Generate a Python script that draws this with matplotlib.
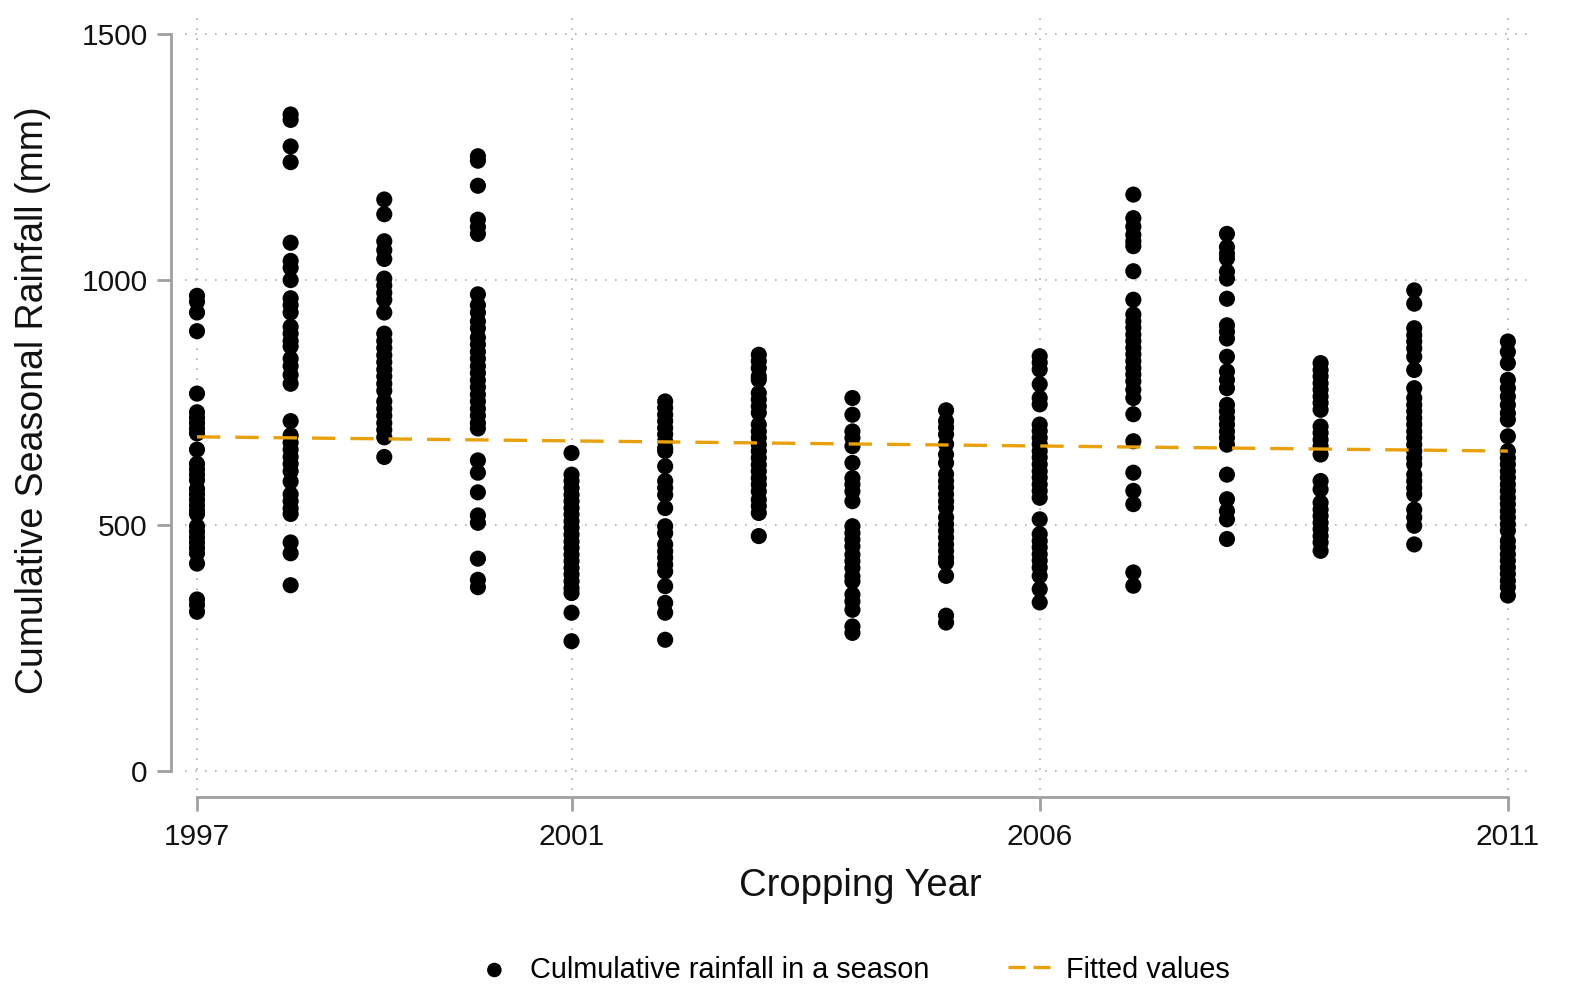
import numpy as np
import matplotlib
matplotlib.use('Agg')
import matplotlib.pyplot as plt
from matplotlib.lines import Line2D

plt.rcParams['font.family'] = ['Liberation Sans', 'DejaVu Sans']

'Data (seasonal rainfall, mm) read off the picture'
r1997 = [967, 955, 933, 895, 768, 730, 719, 708, 697, 687, 654, 625, 614, 603, 592, 574,
         563, 552, 541, 530, 523, 498, 487, 476, 465, 454, 443, 422, 349, 338, 324]
r1998 = [1336, 1325, 1271, 1239, 1075, 1038, 1024, 999, 962, 948, 933, 904, 890, 875, 864,
         839, 824, 806, 788, 712, 683, 668, 654, 639, 625, 610, 589, 563, 549, 534, 523,
         465, 443, 378]
r1999 = [1163, 1133, 1078, 1060, 1042, 1002, 988, 973, 959, 933, 890, 875, 861, 846, 832,
         817, 803, 788, 774, 752, 737, 723, 708, 694, 679, 639]
r2000 = [1251, 1242, 1191, 1122, 1107, 1093, 970, 948, 933, 915, 901, 882, 868, 853, 839,
         824, 810, 795, 781, 766, 752, 737, 723, 708, 697, 632, 607, 567, 520, 505, 432,
         389, 374]
r2001 = [647, 603, 590, 576, 562, 549, 535, 522, 508, 495, 481, 467, 454, 440, 427, 413,
         400, 386, 372, 362, 322, 264]
r2002 = [752, 739, 725, 712, 698, 685, 671, 657, 651, 620, 590, 576, 562, 535, 498, 484,
         461, 447, 434, 420, 406, 376, 342, 322, 267]
r2003 = [847, 834, 820, 803, 796, 769, 756, 742, 729, 705, 691, 678, 664, 651, 637, 623,
         610, 596, 583, 569, 552, 539, 525, 478]
r2004 = [759, 725, 691, 678, 661, 627, 596, 583, 569, 549, 498, 484, 471, 457, 440, 427,
         413, 396, 386, 359, 345, 328, 294, 281]
r2005 = [734, 712, 699, 685, 665, 644, 627, 604, 590, 577, 563, 549, 536, 516, 502, 489,
         475, 461, 448, 434, 424, 397, 316, 302]
r2006 = [844, 831, 817, 787, 759, 746, 705, 692, 678, 665, 651, 638, 624, 610, 597, 583,
         570, 556, 512, 482, 468, 455, 441, 428, 414, 397, 370, 343]
r2007 = [1173, 1125, 1108, 1091, 1078, 1068, 1017, 959, 929, 915, 902, 888, 875, 861, 848,
         834, 820, 807, 793, 776, 759, 726, 671, 607, 570, 543, 404, 377]
r2008 = [1093, 1066, 1053, 1043, 1016, 1002, 961, 907, 894, 880, 843, 813, 796, 779, 745,
         732, 718, 705, 691, 678, 664, 603, 553, 529, 512, 472]
r2009 = [830, 816, 803, 789, 776, 762, 749, 735, 701, 688, 674, 661, 644, 590, 573, 546,
         532, 519, 505, 492, 478, 465, 448]
r2010 = [978, 951, 901, 887, 874, 860, 843, 816, 779, 759, 745, 732, 718, 705, 691, 678,
         664, 651, 637, 624, 603, 590, 576, 563, 532, 516, 499, 461]
r2011 = [874, 853, 830, 796, 779, 762, 745, 728, 715, 681, 651, 637, 624, 610, 597, 583,
         570, 556, 543, 529, 516, 502, 489, 468, 455, 441, 428, 414, 401, 387, 374, 357]

years = [1997, 1998, 1999, 2000, 2001, 2002, 2003, 2004, 2005, 2006, 2007, 2008, 2009, 2010, 2011]
rain = [r1997, r1998, r1999, r2000, r2001, r2002, r2003, r2004, r2005, r2006, r2007, r2008,
        r2009, r2010, r2011]

fit_years = [1997, 2011]
fit_vals = [680, 651]      # fitted line end points

xticks = [1997, 2001, 2006, 2011]
yticks = [0, 500, 1000, 1500]

# long form for scatter
xs = np.concatenate([[y] * len(r) for y, r in zip(years, rain)])
ys = np.concatenate(rain)

fit_color = '#E8A00C'

# ==================================================================
'Graph'
fig = plt.figure(figsize=(15.76, 9.84), dpi=100)
ax = fig.add_axes([0.1174, 0.1972, 0.8566, 0.7927])

sc = ax.scatter(xs, ys, s=135, color='black', edgecolors='none', zorder=3, clip_on=False)
ax.plot(fit_years, fit_vals, color=fit_color, lw=2.4, dashes=(7, 4.5), zorder=4)

ax.set_xlim(1996.872, 2011.29)
ax.set_ylim(-38.7, 1548.8)
ax.set_xticks(xticks)
ax.set_yticks(yticks)

# grid (dotted)
for v in xticks:
    ax.axvline(v, color='#b0b0b0', lw=1.2, ls=(0, (1, 5)), zorder=1)
for v in yticks:
    ax.axhline(v, color='#b0b0b0', lw=1.2, ls=(0, (1, 5)), zorder=1)

# Stata look: detached spines
for s in ['top', 'right']:
    ax.spines[s].set_visible(False)
ax.spines['left'].set_position(('outward', 10))
ax.spines['bottom'].set_position(('outward', 5))
ax.spines['left'].set_bounds(0, 1500)
ax.spines['bottom'].set_bounds(1997, 2011)
for s in ['left', 'bottom']:
    ax.spines[s].set_color('#a0a0a0')
    ax.spines[s].set_linewidth(2)

ax.tick_params(axis='both', colors='#a0a0a0', width=2, length=10, labelsize=21.5,
               labelcolor='#111111')
ax.tick_params(axis='y', pad=7)
ax.tick_params(axis='x', pad=9)

ax.set_xlabel('Cropping Year', fontsize=27.5, color='#111111')
ax.set_ylabel('Cumulative Seasonal Rainfall (mm)', fontsize=27, color='#111111')
ax.xaxis.set_label_coords(0.5, -0.1)
ax.yaxis.set_label_coords(-0.099, 0.5)

# legend: proxy handle so the dashed key shows two short dashes
fit_key = Line2D([], [], color=fit_color, lw=2.4, dashes=(5.1, 2.4))
fig.legend([sc, fit_key], ['Culmulative rainfall in a season', 'Fitted values'],
           loc='lower center', ncol=2, frameon=False, fontsize=20.8, bbox_to_anchor=(0.54, -0.026),
           columnspacing=2.7, handlelength=1.5, handletextpad=0.5, markerscale=0.9)

fig.savefig('out.png', dpi=100, facecolor='white')
